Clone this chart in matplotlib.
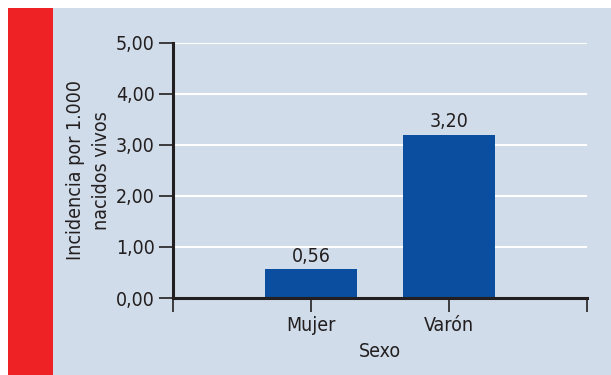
import matplotlib.pyplot as plt
from matplotlib.patches import Rectangle

# Incidencia por sexo
categorias = ["Mujer", "Varón"]
incidencia = [0.56, 3.20]
etiquetas = ["0,56", "3,20"]
yticks = [0, 1, 2, 3, 4, 5]
ytick_labels = ["0,00", "1,00", "2,00", "3,00", "4,00", "5,00"]

plt.rcParams['font.family'] = ['DejaVu Sans']
plt.rcParams['font.stretch'] = 'condensed'
text_color = "#231f20"
panel_color = "#d0dce9"
bar_color = "#0b4d9e"
fs = 14

W, H = 611, 375
fig = plt.figure(figsize=(W / 100, H / 100), dpi=100)
fig.patch.set_facecolor("white")

# fondo gris azulado y franja roja
fig.patches.append(Rectangle((8 / W, 0), 1 - 8 / W, 1 - 8 / H, transform=fig.transFigure,
                             facecolor=panel_color, edgecolor="none", zorder=-10))
fig.patches.append(Rectangle((8 / W, 0), 45 / W, 1 - 8 / H, transform=fig.transFigure,
                             facecolor="#ee2124", edgecolor="none", zorder=-10))

ax = fig.add_axes([173 / W, 1 - 298 / H, (587 - 173) / W, (298 - 43) / H])
ax.set_facecolor("none")

x = [1, 2]
ax.bar(x, incidencia, width=0.67, color=bar_color, zorder=3)
for xi, v, lab in zip(x, incidencia, etiquetas):
    ax.text(xi, v + 0.07, lab, ha="center", va="bottom", fontsize=fs, color=text_color)

ax.set_xlim(0, 3)
ax.set_ylim(0, 5)
ax.set_yticks(yticks)
ax.set_yticklabels(ytick_labels)
ax.set_xticks([0, 1, 2, 3])
ax.set_xticklabels(["", categorias[0], categorias[1], ""])

for y in yticks[1:]:
    ax.axhline(y, color="white", lw=1.5, zorder=1)

for s in ["top", "right"]:
    ax.spines[s].set_visible(False)
for s in ["left", "bottom"]:
    ax.spines[s].set_color(text_color)
    ax.spines[s].set_linewidth(2.2)
    ax.spines[s].set_zorder(4)

ax.tick_params(axis="both", colors=text_color, labelsize=fs, length=10, width=1.2, pad=3)

ax.set_xlabel("Sexo", fontsize=fs, color=text_color, labelpad=5)
ax.set_ylabel("Incidencia por 1.000\nnacidos vivos", fontsize=fs, color=text_color,
              labelpad=4, linespacing=1.45)

fig.savefig("out.png", dpi=100)
